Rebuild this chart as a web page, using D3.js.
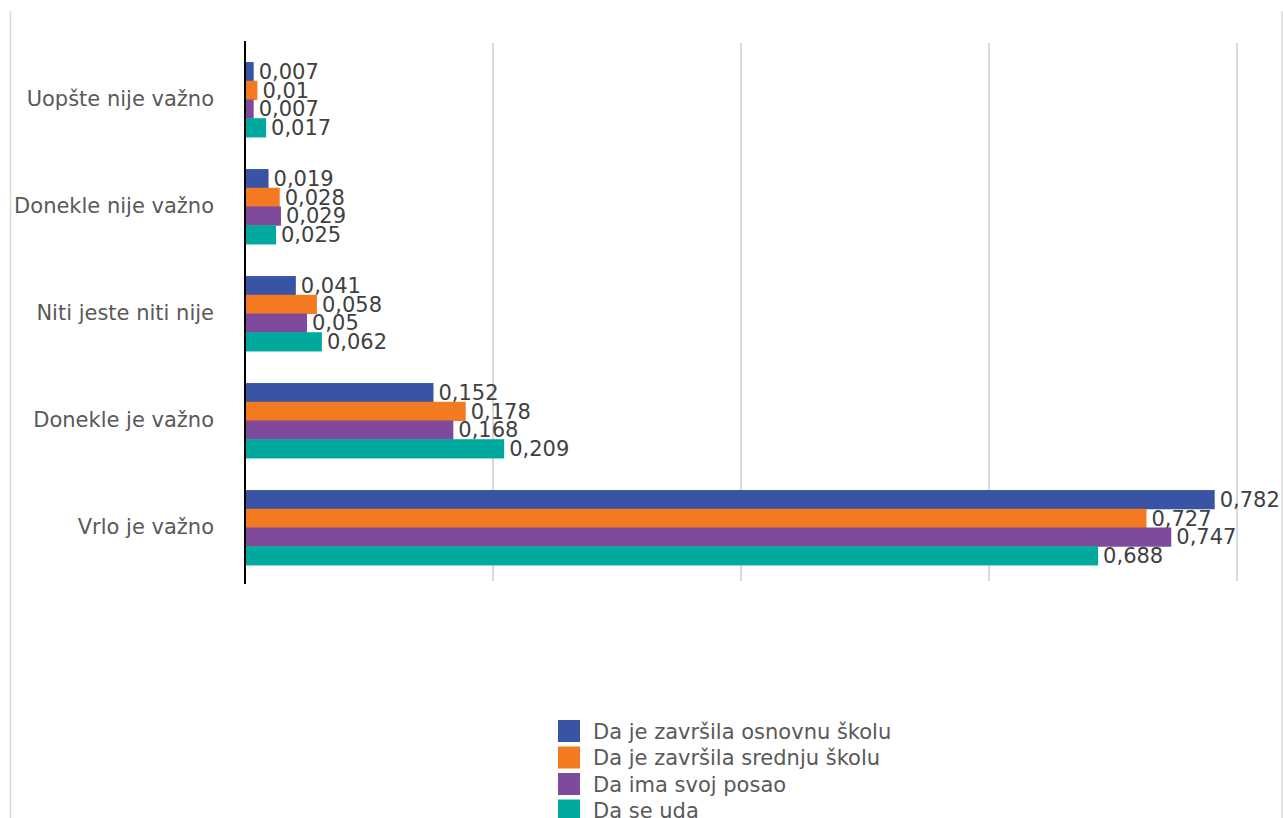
<!DOCTYPE html>
<html><head><meta charset="utf-8">
<script src="https://cdn.jsdelivr.net/npm/d3@7"></script>
<style>body{margin:0;background:#fff}svg{display:block}</style>
</head><body>
<svg id="c" width="1283" height="818"></svg>
<script>
const categories = ["Uopšte nije važno","Donekle nije važno","Niti jeste niti nije","Donekle je važno","Vrlo je važno"];
const seriesNames = ["Da je završila osnovnu školu","Da je završila srednju školu","Da ima svoj posao","Da se uda"];
const osnovna = [0.007,0.019,0.041,0.152,0.782];
const srednja = [0.01,0.028,0.058,0.178,0.727];
const posao = [0.007,0.029,0.05,0.168,0.747];
const uda = [0.017,0.025,0.062,0.209,0.688];
const xTicks = [0,0.2,0.4,0.6,0.8];
const colors = ["#3A54A5","#F37A21","#7F4A9B","#00A99D"];
const seriesValues = [osnovna,srednja,posao,uda];

const svg = d3.select("#c");
const font = "'DejaVu Sans', sans-serif";
const textColor = "#595959";

// chart border (left/right)
svg.append("line").attr("x1",10.5).attr("x2",10.5).attr("y1",11).attr("y2",818).attr("stroke","#d9d9d9").attr("stroke-width",1.5);
svg.append("line").attr("x1",1282).attr("x2",1282).attr("y1",11).attr("y2",818).attr("stroke","#d9d9d9").attr("stroke-width",1.5);

const x = d3.scaleLinear().domain([0,0.8]).range([245,1237]);
const y = d3.scaleBand().domain(categories).range([46,581]).paddingInner(0.3).paddingOuter(0.15);
const ySub = d3.scaleBand().domain(d3.range(4)).range([0,y.bandwidth()]);

// gridlines
svg.append("g").selectAll("line").data(xTicks.slice(1)).join("line")
  .attr("x1",d=>x(d)).attr("x2",d=>x(d)).attr("y1",43).attr("y2",581)
  .attr("stroke","#d9d9d9").attr("stroke-width",2);

// bars
const groups = svg.append("g").selectAll("g").data(categories).join("g")
  .attr("transform",c=>`translate(0,${y(c)})`);
groups.each(function(c,ci){
  const g = d3.select(this);
  seriesValues.forEach((vals,si)=>{
    g.append("rect").attr("x",x(0)).attr("y",ySub(si)).attr("width",x(vals[ci])-x(0)).attr("height",ySub.bandwidth()+0.5).attr("fill",colors[si]);
  });
  seriesValues.forEach((vals,si)=>{
    g.append("text").attr("x",x(vals[ci])+5).attr("y",ySub(si)+ySub.bandwidth()/2).attr("dy","0.36em")
      .attr("font-family",font).attr("font-size",21).attr("fill","#404040")
      .text(String(vals[ci]).replace(".",","));
  });
});

// category axis
const yAxis = svg.append("g").attr("transform","translate(245,0)").call(d3.axisLeft(y).tickSize(0).tickPadding(31));
yAxis.select(".domain").remove();
yAxis.selectAll("text").attr("font-family",font).attr("font-size",21).attr("fill",textColor);
svg.append("line").attr("x1",245).attr("x2",245).attr("y1",41).attr("y2",584).attr("stroke","#000").attr("stroke-width",2);

// legend
const leg = svg.append("g").selectAll("g").data(seriesNames).join("g")
  .attr("transform",(d,i)=>`translate(558,${720+i*26.5})`);
leg.append("rect").attr("width",22).attr("height",22).attr("fill",(d,i)=>colors[i]);
leg.append("text").attr("x",35).attr("y",11).attr("dy","0.36em").attr("font-family",font).attr("font-size",21).attr("fill",textColor).text(d=>d);
</script>
</body></html>
